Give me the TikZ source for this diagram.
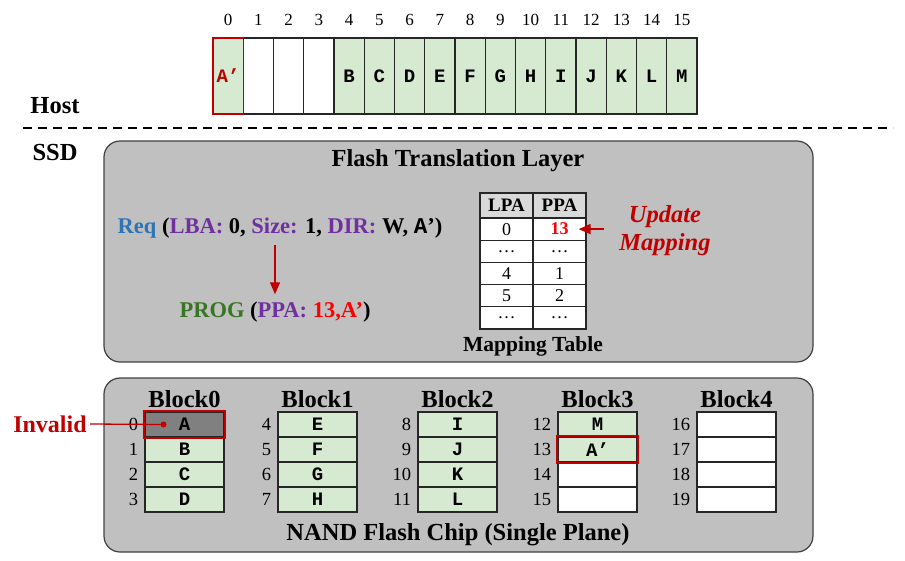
\documentclass[tikz,border=0pt]{standalone}
\usepackage{fontspec}
\setmainfont{Liberation Serif}
\setmonofont{Liberation Mono}
\definecolor{ssdgreen}{RGB}{213,234,208}
\definecolor{ssdred}{RGB}{192,0,0}
\definecolor{ssdgray}{RGB}{192,192,192}
\definecolor{ssddark}{RGB}{128,128,128}
\definecolor{ssdlight}{RGB}{217,217,217}
\definecolor{ssdblue}{RGB}{46,117,182}
\definecolor{ssdpurple}{RGB}{112,48,160}
\definecolor{ssdolive}{RGB}{56,118,35}
\usetikzlibrary{arrows.meta,positioning}

\begin{document}
\begin{tikzpicture}[x=1pt,y=-1pt,
  hcell/.style={draw=black!85, line width=1.3pt, minimum width=30.25pt, minimum height=76pt, inner sep=0pt, font=\ttfamily\bfseries\fontsize{19}{19}\selectfont},
  pcell/.style={draw=black!85, line width=1.5pt, minimum width=79pt, minimum height=25pt, inner sep=0pt, font=\ttfamily\bfseries\fontsize{19}{19}\selectfont},
  tcell/.style={draw=black!85, line width=1.3pt, minimum width=53pt, minimum height=22.2pt, inner sep=0pt, fill=white, font=\fontsize{18}{18}\selectfont},
  numlbl/.style={inner sep=0pt, font=\fontsize{17}{17}\selectfont},
  title/.style={font=\bfseries\fontsize{24.5}{26}\selectfont},
  panel/.style={draw=black!75, fill=ssdgray, line width=1.2pt, rounded corners=16pt, minimum width=709pt},
  redarrow/.style={ssdred, line width=1.5pt, -{Triangle[length=12pt,width=10pt]}}]
  \useasboundingbox (0,0) rectangle (905,560);

  %--- Host side ---
  \foreach \i in {0,...,15}
    \node[numlbl] (n\i) at ({213+30.25*(\i+0.5)},20) {\i};
  \foreach \i in {1,2,3}
    \node[hcell, fill=white] (h\i) at ({213+30.25*(\i+0.5)},76) {};
  \foreach \i/\t in {4/B,5/C,6/D,7/E,8/F,9/G,10/H,11/I,12/J,13/K,14/L,15/M}
    \node[hcell, fill=ssdgreen] (h\i) at ({213+30.25*(\i+0.5)},76) {\t};
  \node[hcell, fill=ssdgreen, draw=ssdred, text=ssdred] (h0) at ({213+30.25*0.5},76) {A’};

  \node[title] (host) at (55,106) {Host};
  \draw[line width=1.6pt, dash pattern=on 9pt off 6pt] (23,128) -- (893,128);
  \node[title] (ssd) at (55,153) {SSD};

  %--- FTL ---
  \node[panel, minimum height=221pt] (ftl) at (458.5,251.5) {};
  \node[title] (ftltitle) at (458,161) {Flash Translation Layer};

  \node[font=\bfseries\fontsize{22.5}{24}\selectfont] (req) at (280,228)
    {\textcolor{ssdblue}{Req} (\textcolor{ssdpurple}{LBA:} 0, \textcolor{ssdpurple}{Size:} 1, \textcolor{ssdpurple}{DIR:} W, {\ttfamily A}’)};
  \node[font=\bfseries\fontsize{22.5}{24}\selectfont] (prog) at (275,312)
    {\textcolor{ssdolive}{PROG} (\textcolor{ssdpurple}{PPA:} \textcolor{red}{13,A’})};
  \draw[redarrow, line width=1.3pt, shorten <=3pt, shorten >=4pt] (req.south -| prog.north) -- (prog.north);

  % mapping table
  \node[tcell, minimum height=25pt, fill=ssdlight, font=\bfseries\fontsize{19}{19}\selectfont] (l0) at (506.5,205.5) {LPA};
  \node[tcell, minimum height=25pt, fill=ssdlight, font=\bfseries\fontsize{19}{19}\selectfont] (p0) at (559.5,205.5) {PPA};
  \node[tcell] (l1) at (506.5,229.1) {0};
  \node[tcell, text=red, font=\bfseries\fontsize{18}{18}\selectfont] (p1) at (559.5,229.1) {13};
  \foreach \r/\a/\b in {2/…/…,3/4/1,4/5/2,5/…/…} {
    \node[tcell] (l\r) at (506.5,{206.9+22.2*\r}) {\a};
    \node[tcell] (p\r) at (559.5,{206.9+22.2*\r}) {\b};
  }
  \node[font=\bfseries\fontsize{21.5}{22}\selectfont] (maptitle) at (533,346) {Mapping Table};

  \node[font=\bfseries\itshape\fontsize{24.5}{28}\selectfont, text=ssdred, align=center] (upd) at (665,231) {Update\\Mapping};
  \coordinate (updfrom) at ([xshift=17pt]p1.east);
  \draw[redarrow, line width=1.8pt, shorten >=-8pt] (updfrom) -- (p1.east);

  %--- NAND flash ---
  \node[panel, minimum height=174pt] (nand) at (458.5,465) {};
  \node[title] (nandtitle) at (458,535) {NAND Flash Chip (Single Plane)};

  \foreach \b/\x in {0/145,1/278,2/418,3/558,4/697}
    \node[title] (bt\b) at ({\x+39.5},399) {Block\b};

  \foreach \pg/\t/\f in {0/A/ssddark,1/B/ssdgreen,2/C/ssdgreen,3/D/ssdgreen,4/E/ssdgreen,5/F/ssdgreen,6/G/ssdgreen,7/H/ssdgreen,8/I/ssdgreen,9/J/ssdgreen,10/K/ssdgreen,11/L/ssdgreen,12/M/ssdgreen,13/A’/ssdgreen,14//white,15//white,16//white,17//white,18//white,19//white} {
    \pgfmathtruncatemacro\bk{int(\pg/4)}
    \pgfmathtruncatemacro\rw{mod(\pg,4)}
    \pgfmathsetmacro\bx{{145,278,418,558,697}[\bk]}
    \node[pcell, fill=\f] (pg\pg) at ({\bx+39.5},{412+25*(\rw+0.5)}) {\t};
    \node[numlbl, anchor=east, font=\fontsize{18.5}{18}\selectfont] (pn\pg) at ([xshift=-6pt]pg\pg.west) {\pg};
  }
  \draw[ssdred, line width=1.6pt] (pg0.north west) rectangle (pg0.south east);
  \draw[ssdred, line width=1.6pt] (pg13.north west) rectangle (pg13.south east);

  \node[font=\bfseries\fontsize{24}{26}\selectfont, text=ssdred] (inv) at (50,424) {Invalid};
  \coordinate (dot) at ([xshift=-21pt]pg0.center);
  \draw[ssdred, line width=1.3pt] (inv.east) -- (dot);
  \fill[ssdred] (dot) circle (3pt);
\end{tikzpicture}
\end{document}
